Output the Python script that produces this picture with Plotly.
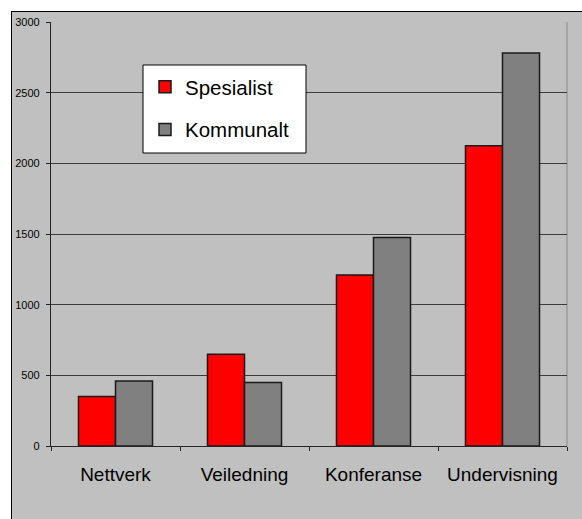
import plotly.graph_objects as go

categories = ["Nettverk", "Veiledning", "Konferanse", "Undervisning"]
spesialist = [350, 650, 1210, 2125]
kommunalt = [460, 450, 1475, 2780]
series_names = ["Spesialist", "Kommunalt"]
y_ticks = [0, 500, 1000, 1500, 2000, 2500, 3000]

W, H = 582, 519
L, R, T, B = 51, 567, 22, 446
pw, ph = R - L, B - T

def px(x):
    return (x - L) / pw

def py(y):
    return (B - y) / ph

FONT = "Arial, Liberation Sans, sans-serif"

fig = go.Figure()
fig.add_trace(go.Bar(x=categories, y=spesialist, name=series_names[0],
                     marker=dict(color="#FF0000", line=dict(color="#1a1a1a", width=1.5)),
                     legendgroup="a"))
fig.add_trace(go.Bar(x=categories, y=kommunalt, name=series_names[1],
                     marker=dict(color="#808080", line=dict(color="#1a1a1a", width=1.5)),
                     legendgroup="b"))

shapes = [
    # white strips outside the chart area (top and left)
    dict(type="rect", xref="paper", yref="paper", x0=px(0), x1=px(W), y0=py(11), y1=py(0),
         fillcolor="white", line=dict(width=0), layer="below"),
    dict(type="rect", xref="paper", yref="paper", x0=px(0), x1=px(11), y0=py(H), y1=py(0),
         fillcolor="white", line=dict(width=0), layer="below"),
    # black chart-area border (top and left)
    dict(type="line", xref="paper", yref="paper", x0=px(11), x1=px(W), y0=py(11.5), y1=py(11.5),
         line=dict(color="black", width=1), layer="below"),
    dict(type="line", xref="paper", yref="paper", x0=px(11.5), x1=px(11.5), y0=py(H), y1=py(11),
         line=dict(color="black", width=1), layer="below"),
    # right plot border
    dict(type="line", xref="paper", yref="paper", x0=1, x1=1, y0=0, y1=1,
         line=dict(color="#8a8a8a", width=1), layer="below"),
    # legend box
    dict(type="rect", xref="paper", yref="paper", x0=px(143), x1=px(306), y0=py(153), y1=py(65),
         fillcolor="white", line=dict(color="black", width=1), layer="above"),
]

fig.update_layout(
    width=W, height=H,
    margin=dict(l=L, r=W - R, t=T, b=H - B, pad=0),
    paper_bgcolor="#C0C0C0",
    plot_bgcolor="rgba(0,0,0,0)",
    barmode="group",
    bargap=0.426,
    bargroupgap=0,
    font=dict(family=FONT, color="black"),
    shapes=shapes,
    showlegend=True,
    legend=dict(
        x=px(145), y=py(67), xanchor="left", yanchor="top",
        bgcolor="rgba(0,0,0,0)", borderwidth=0,
        font=dict(size=20.5, family=FONT, color="black"),
        traceorder="grouped", tracegroupgap=13,
    ),
    xaxis=dict(
        showgrid=False, showline=True, linecolor="#262626", linewidth=1,
        ticks="outside", ticklen=4, tickcolor="#262626", tickson="boundaries",
        tickfont=dict(size=19, family=FONT, color="black"),
        ticklabelstandoff=11,
        zeroline=False,
    ),
    yaxis=dict(
        range=[0, 3000], tickvals=y_ticks, ticktext=[str(v) for v in y_ticks],
        showgrid=True, gridcolor="#3c3c3c", gridwidth=1,
        showline=True, linecolor="#222222", linewidth=1.3,
        ticks="outside", ticklen=4, tickcolor="#222222",
        tickfont=dict(size=11, family=FONT, color="black"),
        ticklabelstandoff=4,
        zeroline=False,
    ),
)

fig.write_html(
    "out.html",
    post_script="document.documentElement.style.margin='0';document.body.style.margin='0';"
                "document.body.style.overflow='hidden';"
                "document.body.style.background='#C0C0C0';"
                "document.documentElement.style.background='#C0C0C0';",
)
